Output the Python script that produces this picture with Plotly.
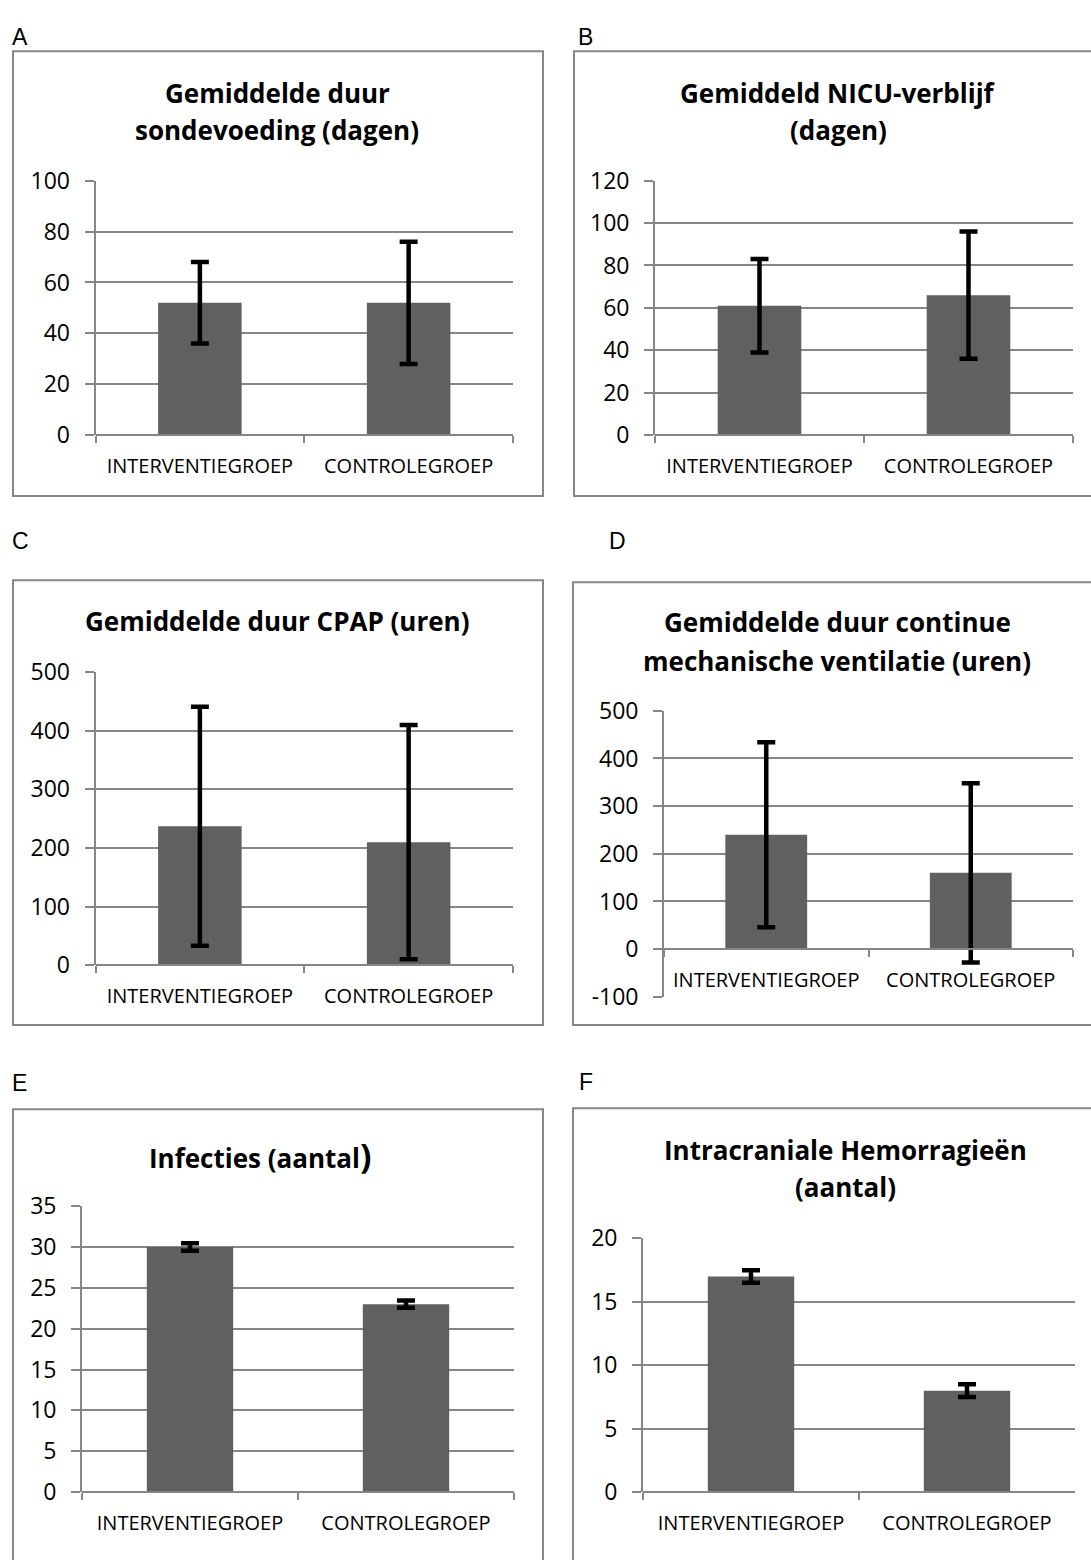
import plotly.graph_objects as go

W, H = 1091, 1560

categories = ["INTERVENTIEGROEP", "CONTROLEGROEP"]

sonde_mean = [52, 52]
sonde_sd = [16, 24]
nicu_mean = [61, 66]
nicu_sd = [22, 30]
cpap_mean = [237, 210]
cpap_sd = [204, 200]
vent_mean = [240, 160]
vent_sd = [194, 188]
infecties = [30, 23]
infecties_err = [0.45, 0.45]
hemorragie = [17, 8]
hemorragie_err = [0.5, 0.5]

ticks_A = [0, 20, 40, 60, 80, 100]
ticks_B = [0, 20, 40, 60, 80, 100, 120]
ticks_C = [0, 100, 200, 300, 400, 500]
ticks_D = [-100, 0, 100, 200, 300, 400, 500]
ticks_E = [0, 5, 10, 15, 20, 25, 30, 35]
ticks_F = [0, 5, 10, 15, 20]

GRID = "#868686"
BAR = "#606060"
FONT = "Open Sans"


def px(x):
    return x / W


def py(y):
    return 1 - y / H


panels = [
    dict(letter="A", mean=sonde_mean, err=sonde_sd, ticks=ticks_A,
         x=(95.5, 513), y=(167, 427), zero=427, box=(13, 35, 543, 489),
         title=["Gemiddelde duur", "sondevoeding (dagen)"], ty=[78, 115], tx=277,
         lx=10, ly=20),
    dict(letter="B", mean=nicu_mean, err=nicu_sd, ticks=ticks_B,
         x=(655, 1073), y=(167, 427), zero=427, box=(574, 35, 1100, 489),
         title=["Gemiddeld NICU-verblijf", "(dagen)"], ty=[78, 115], tx=838,
         lx=576, ly=20),
    dict(letter="C", mean=cpap_mean, err=cpap_sd, ticks=ticks_C,
         x=(95.5, 513), y=(669, 968), zero=968, box=(13, 575, 543, 1029),
         title=["Gemiddelde duur CPAP (uren)"], ty=[617], tx=277,
         lx=10, ly=535),
    dict(letter="D", mean=vent_mean, err=vent_sd, ticks=ticks_D,
         x=(664, 1073), y=(708.3, 1000.3), zero=951.7, box=(573, 577, 1100, 1029),
         title=["Gemiddelde duur continue", "mechanische ventilatie (uren)"],
         ty=[618, 657], tx=837, lx=607, ly=535),
    dict(letter="E", mean=infecties, err=infecties_err, ticks=ticks_E,
         x=(82, 514), y=(1214, 1506), zero=1506, box=(13, 1115, 543, 1600),
         title=["Infecties (aantal<span style='font-size:34px'>)</span>"],
         ty=[1162], tx=260, lx=10, ly=1088),
    dict(letter="F", mean=hemorragie, err=hemorragie_err, ticks=ticks_F,
         x=(643, 1075), y=(1247, 1506), zero=1506, box=(573, 1114, 1100, 1600),
         title=["Intracraniale Hemorragieën", "(aantal)"], ty=[1157, 1195],
         tx=845, lx=577, ly=1087),
]

fig = go.Figure()
shapes = []
annotations = []

for i, p in enumerate(panels):
    n = i + 1
    xa = "x" if n == 1 else f"x{n}"
    ya = "y" if n == 1 else f"y{n}"
    fig.add_trace(go.Bar(
        x=categories, y=p["mean"], xaxis=xa, yaxis=ya,
        width=0.4, marker=dict(color=BAR, line=dict(width=0)),
        error_y=dict(type="data", array=p["err"], visible=True,
                     color="black", thickness=4.5, width=9),
        showlegend=False, hoverinfo="skip",
    ))
    ticks = p["ticks"]
    y0, y1 = p["y"]
    xkey = "xaxis" if n == 1 else f"xaxis{n}"
    ykey = "yaxis" if n == 1 else f"yaxis{n}"
    fig.layout[xkey] = dict(
        domain=[px(p["x"][0]), px(p["x"][1])],
        type="category", range=[-0.5, 1.5],
        anchor="free", position=py(p["zero"]),
        showgrid=False, zeroline=False,
        showline=True, linecolor=GRID, linewidth=1.8,
        ticks="outside", tickson="boundaries", ticklen=7, tickcolor=GRID,
        tickwidth=1.8, tickangle=0,
        tickfont=dict(family=FONT, size=20, color="black"),
        ticklabelstandoff=13, fixedrange=True,
    )
    fig.layout[ykey] = dict(
        domain=[py(y1), py(y0)],
        range=[ticks[0], ticks[-1]], tickvals=ticks,
        ticktext=[str(t) for t in ticks],
        anchor=xa, showgrid=True, gridcolor=GRID, gridwidth=1.8,
        zeroline=False, showline=True, linecolor=GRID, linewidth=1.8,
        ticks="outside", ticklen=9, tickcolor=GRID, tickwidth=1.8,
        tickfont=dict(family=FONT, size=23, color="black"),
        ticklabelstandoff=10, fixedrange=True,
    )
    bx0, by0, bx1, by1 = p["box"]
    shapes.append(dict(type="rect", xref="paper", yref="paper",
                       x0=px(bx0), x1=px(bx1), y0=py(by1), y1=py(by0),
                       line=dict(color=GRID, width=2), layer="below"))
    for t, ty in zip(p["title"], p["ty"]):
        annotations.append(dict(text=f"<b>{t}</b>", xref="paper", yref="paper",
                                x=px(p["tx"]), y=py(ty), xanchor="center",
                                yanchor="middle", showarrow=False,
                                font=dict(family=FONT, size=26, color="black")))
    annotations.append(dict(text=p["letter"], xref="paper", yref="paper",
                            x=px(p["lx"]), y=py(p["ly"]), xanchor="left",
                            yanchor="middle", showarrow=False,
                            font=dict(family="Liberation Sans", size=23,
                                      color="black")))

fig.update_layout(
    width=W, height=H, margin=dict(l=0, r=0, t=0, b=0),
    paper_bgcolor="white", plot_bgcolor="white",
    shapes=shapes, annotations=annotations, showlegend=False,
)

fig.write_html("out.html", config={"displayModeBar": False})
